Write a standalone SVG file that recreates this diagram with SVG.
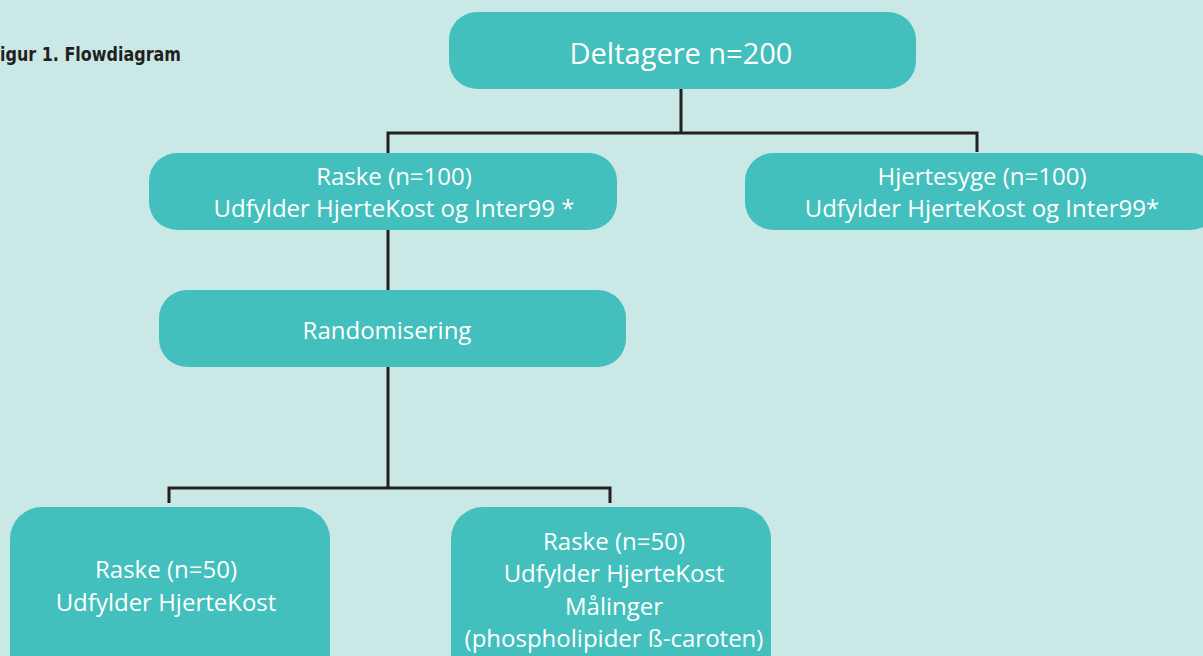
<svg xmlns="http://www.w3.org/2000/svg" width="1203" height="656" viewBox="0 0 1203 656">
<style>
.bg{fill:#cae8e6}
.node{fill:#43c0bd}
.t{font-family:"Open Sans","Noto Sans",sans-serif;fill:#ffffff;text-anchor:middle}
.t25{font-size:24px}
.conn{fill:none;stroke:#231f20;stroke-width:3;stroke-linecap:butt;stroke-linejoin:miter}
.title{font-family:"DejaVu Sans Condensed","Liberation Sans Narrow","Liberation Sans",sans-serif;font-stretch:condensed;font-weight:bold;font-size:20px;fill:#231f20}
</style>
<rect class="bg" x="0" y="0" width="1203" height="656"/>
<text class="title" x="0" y="61" textLength="181" lengthAdjust="spacingAndGlyphs">igur 1. Flowdiagram</text>
<g id="connectors">
<path class="conn" d="M681 89 V133"/>
<path class="conn" d="M388 153 V133 H977 V152"/>
<path class="conn" d="M388 230 V290"/>
<path class="conn" d="M388 367 V488"/>
<path class="conn" d="M169 503 V488 H610 V503"/>
</g>
<g id="n-deltagere">
<rect class="node" x="449" y="12" width="467" height="77" rx="28"/>
<text class="t" x="681" y="64" font-size="29">Deltagere n=200</text>
</g>
<g id="n-raske100">
<rect class="node" x="149" y="153" width="468" height="77" rx="28"/>
<text class="t t25" x="394" y="185">Raske (n=100)</text>
<text class="t t25" x="394" y="217">Udfylder HjerteKost og Inter99 *</text>
</g>
<g id="n-hjertesyge">
<rect class="node" x="745" y="153" width="474" height="77" rx="28"/>
<text class="t t25" x="982" y="185">Hjertesyge (n=100)</text>
<text class="t t25" x="982" y="217">Udfylder HjerteKost og Inter99*</text>
</g>
<g id="n-random">
<rect class="node" x="159" y="290" width="467" height="77" rx="28"/>
<text class="t t25" x="387" y="339">Randomisering</text>
</g>
<g id="n-raske50a">
<rect class="node" x="10" y="507" width="320" height="180" rx="32"/>
<text class="t t25" x="166" y="578">Raske (n=50)</text>
<text class="t t25" x="166" y="611">Udfylder HjerteKost</text>
</g>
<g id="n-raske50b">
<rect class="node" x="451" y="507" width="320" height="180" rx="32"/>
<text class="t t25" x="614" y="550">Raske (n=50)</text>
<text class="t t25" x="614" y="582">Udfylder HjerteKost</text>
<text class="t t25" x="614" y="615">Målinger</text>
<text class="t t25" x="614" y="647">(phospholipider ß-caroten)</text>
</g>
</svg>
